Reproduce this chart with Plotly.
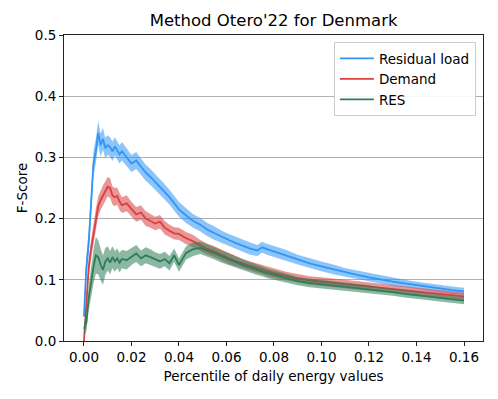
import plotly.graph_objects as go

# percentile of daily energy values
x = [0.000, 0.001, 0.002, 0.003, 0.004, 0.005, 0.006, 0.007, 0.008, 0.009,
     0.010, 0.011, 0.012, 0.013, 0.014, 0.015, 0.016, 0.018, 0.020, 0.022,
     0.024, 0.026, 0.028, 0.030, 0.032, 0.034, 0.036, 0.038, 0.040, 0.043,
     0.046, 0.049, 0.052, 0.055, 0.058, 0.061, 0.064, 0.067, 0.070, 0.073,
     0.075, 0.077, 0.080, 0.085, 0.090, 0.095, 0.100, 0.105, 0.110, 0.115,
     0.120, 0.125, 0.130, 0.135, 0.140, 0.145, 0.150, 0.155, 0.160]

residual = [0.040, 0.120, 0.160, 0.220, 0.290, 0.310, 0.340, 0.320, 0.330, 0.315,
            0.320, 0.317, 0.310, 0.318, 0.312, 0.305, 0.310, 0.300, 0.290, 0.295,
            0.285, 0.275, 0.268, 0.260, 0.252, 0.243, 0.235, 0.225, 0.215, 0.205,
            0.196, 0.190, 0.182, 0.176, 0.170, 0.165, 0.160, 0.155, 0.151, 0.148,
            0.153, 0.150, 0.146, 0.140, 0.133, 0.127, 0.122, 0.117, 0.112, 0.108,
            0.104, 0.100, 0.097, 0.094, 0.091, 0.088, 0.086, 0.083, 0.081]
residual_sd = [0.012, 0.018, 0.020, 0.020, 0.020, 0.020, 0.020, 0.019, 0.018, 0.017,
               0.016, 0.016, 0.016, 0.015, 0.015, 0.015, 0.015, 0.014, 0.014, 0.014,
               0.014, 0.013, 0.013, 0.013, 0.013, 0.013, 0.012, 0.012, 0.012, 0.012,
               0.011, 0.011, 0.011, 0.011, 0.010, 0.010, 0.010, 0.010, 0.010, 0.009,
               0.009, 0.009, 0.009, 0.009, 0.008, 0.008, 0.008, 0.008, 0.007, 0.007,
               0.007, 0.007, 0.007, 0.006, 0.006, 0.006, 0.006, 0.006, 0.006]

demand = [0.000, 0.060, 0.120, 0.150, 0.176, 0.200, 0.220, 0.230, 0.238, 0.245,
          0.252, 0.250, 0.238, 0.235, 0.237, 0.228, 0.222, 0.225, 0.215, 0.207,
          0.210, 0.200, 0.196, 0.192, 0.195, 0.185, 0.180, 0.176, 0.175, 0.168,
          0.163, 0.156, 0.150, 0.146, 0.140, 0.135, 0.130, 0.126, 0.122, 0.119,
          0.117, 0.114, 0.111, 0.106, 0.102, 0.099, 0.097, 0.095, 0.093, 0.091,
          0.089, 0.087, 0.085, 0.083, 0.081, 0.079, 0.077, 0.075, 0.073]
demand_sd = [0.005, 0.012, 0.014, 0.015, 0.016, 0.016, 0.016, 0.016, 0.016, 0.016,
             0.016, 0.016, 0.015, 0.015, 0.014, 0.014, 0.013, 0.013, 0.012, 0.012,
             0.012, 0.012, 0.011, 0.011, 0.011, 0.011, 0.010, 0.010, 0.010, 0.010,
             0.010, 0.009, 0.009, 0.009, 0.009, 0.009, 0.008, 0.008, 0.008, 0.008,
             0.008, 0.008, 0.008, 0.007, 0.007, 0.007, 0.007, 0.007, 0.006, 0.006,
             0.006, 0.006, 0.006, 0.006, 0.006, 0.006, 0.006, 0.006, 0.006]

res = [0.020, 0.030, 0.070, 0.100, 0.121, 0.140, 0.137, 0.125, 0.116, 0.130,
       0.135, 0.128, 0.137, 0.130, 0.135, 0.128, 0.134, 0.132, 0.138, 0.143,
       0.135, 0.140, 0.137, 0.133, 0.130, 0.134, 0.127, 0.140, 0.124, 0.144,
       0.150, 0.152, 0.148, 0.143, 0.138, 0.133, 0.128, 0.124, 0.120, 0.116,
       0.114, 0.111, 0.108, 0.103, 0.098, 0.095, 0.093, 0.091, 0.089, 0.087,
       0.085, 0.082, 0.080, 0.077, 0.075, 0.072, 0.070, 0.068, 0.066]
res_sd = [0.010, 0.015, 0.020, 0.025, 0.028, 0.030, 0.028, 0.026, 0.024, 0.022,
          0.020, 0.019, 0.018, 0.017, 0.016, 0.016, 0.015, 0.015, 0.014, 0.014,
          0.013, 0.013, 0.013, 0.012, 0.012, 0.012, 0.012, 0.011, 0.011, 0.011,
          0.011, 0.010, 0.010, 0.010, 0.010, 0.009, 0.009, 0.009, 0.009, 0.008,
          0.008, 0.008, 0.008, 0.008, 0.007, 0.007, 0.007, 0.007, 0.007, 0.007,
          0.006, 0.006, 0.006, 0.006, 0.006, 0.006, 0.006, 0.006, 0.006]

series = [
  ("Residual load", residual, residual_sd, "#2f96f5", "rgba(47,150,245,0.55)"),
  ("Demand", demand, demand_sd, "#d94040", "rgba(217,64,64,0.55)"),
  ("RES", res, res_sd, "#2e7d58", "rgba(46,125,88,0.55)"),
]

fig = go.Figure()

for name, mean, sd, col, fillcol in series:
  lower = [m - s for m, s in zip(mean, sd)]
  upper = [m + s for m, s in zip(mean, sd)]
  fig.add_trace(go.Scatter(x=x, y=lower, mode='lines', line=dict(width=0),
                           showlegend=False, hoverinfo='skip'))
  fig.add_trace(go.Scatter(x=x, y=upper, mode='lines', line=dict(width=0),
                           fill='tonexty', fillcolor=fillcol,
                           showlegend=False, hoverinfo='skip'))
  fig.add_trace(go.Scatter(x=x, y=mean, mode='lines', name=name,
                           line=dict(color=col, width=1.8)))

axis_common = dict(showline=True, linecolor='#222222', linewidth=1, mirror=True,
                   ticks='outside', ticklen=4, tickcolor='#222222', zeroline=False,
                   tickfont=dict(size=13.5))

# page body has an 8px margin, so the figure is 8px smaller
fig.update_layout(
  width=490, height=391,
  margin=dict(l=56, r=15, t=27, b=58),
  paper_bgcolor='white', plot_bgcolor='white',
  font=dict(family='DejaVu Sans', size=13.5, color='black'),
  title=dict(text="Method Otero'22 for Denmark", x=0.542, xanchor='center',
             y=0.969, yanchor='middle', font=dict(size=16.5)),
  xaxis=dict(range=[-0.0084, 0.168], tickvals=[0.00, 0.02, 0.04, 0.06, 0.08, 0.10, 0.12, 0.14, 0.16],
             tickformat='.2f', showgrid=False,
             title=dict(text='Percentile of daily energy values', standoff=7, font=dict(size=13.5)),
             **axis_common),
  yaxis=dict(range=[0, 0.5], tickvals=[0.0, 0.1, 0.2, 0.3, 0.4, 0.5], tickformat='.1f',
             showgrid=True, gridcolor='#b0b0b0', gridwidth=1,
             title=dict(text='F-Score', standoff=4, font=dict(size=13.5)),
             **axis_common),
  legend=dict(x=0.983, xanchor='right', y=0.977, yanchor='top', traceorder='normal',
              bgcolor='rgba(255,255,255,0.9)', bordercolor='#cccccc', borderwidth=1,
              font=dict(size=13.5), itemwidth=34, tracegroupgap=0),
)

fig.write_html("out.html")
